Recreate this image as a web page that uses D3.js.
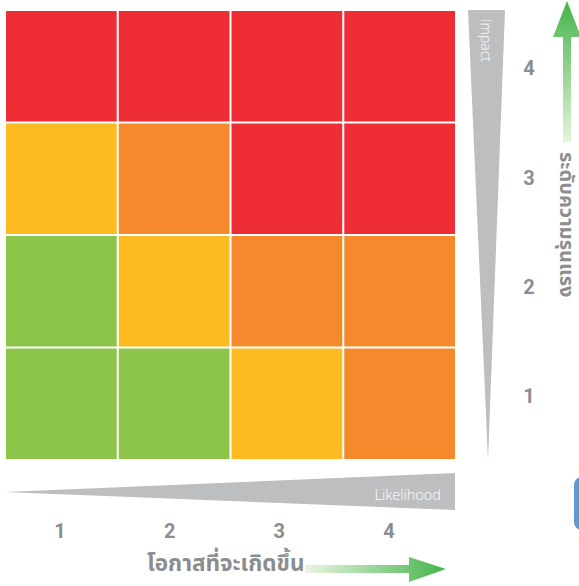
<!DOCTYPE html>
<html>
<head>
<meta charset="utf-8">
<script src="https://cdn.jsdelivr.net/npm/d3@7/dist/d3.min.js"></script>
<style>
  html, body { margin: 0; padding: 0; background: #ffffff; }
  svg { display: block; }
</style>
</head>
<body>
<svg id="chart" width="579" height="586"></svg>
<script>
// Risk matrix: likelihood (columns) against impact (rows)
const likelihoodLabels = ["1", "2", "3", "4"];
const impactLabels = ["4", "3", "2", "1"];   // top row first

// Risk level per cell, one array per impact row (likelihood 1..4)
const impact4 = ["high", "high", "high", "high"];
const impact3 = ["medium", "elevated", "high", "high"];
const impact2 = ["low", "medium", "elevated", "elevated"];
const impact1 = ["low", "low", "medium", "elevated"];

const levelColors = {
  low: "#8DC54B",
  medium: "#FDBA21",
  elevated: "#F58A2D",
  high: "#EE2D34"
};

const xTitle = "โอกาสที่จะเกิดขึ้น";
const yTitle = "ระดับความรุนแรง";
const xBarLabel = "Likelihood";
const yBarLabel = "Impact";

const rows = [
  { impact: "4", levels: impact4 },
  { impact: "3", levels: impact3 },
  { impact: "2", levels: impact2 },
  { impact: "1", levels: impact1 }
];

const cells = rows.flatMap(r =>
  r.levels.map((lvl, i) => ({ impact: r.impact, likelihood: likelihoodLabels[i], level: lvl }))
);

const svg = d3.select("#chart");
const thaiFont = "'Noto Sans Thai', 'Noto Sans Thai Looped', 'Noto Sans', 'DejaVu Sans', sans-serif";
const latinFont = "'Open Sans', Lato, sans-serif";
const gray = "#8B8D90";

const x = d3.scaleBand().domain(likelihoodLabels).range([6, 455]).paddingInner(0.018);
const y = d3.scaleBand().domain(impactLabels).range([11, 459]).paddingInner(0.018);

// Cells
svg.append("g")
  .selectAll("rect")
  .data(cells)
  .join("rect")
  .attr("x", d => x(d.likelihood))
  .attr("y", d => y(d.impact))
  .attr("width", x.bandwidth())
  .attr("height", y.bandwidth())
  .attr("fill", d => levelColors[d.level]);

const [gx0, gx1] = x.range();
const [gy0, gy1] = y.range();

// Wedge beside the grid (impact grows upward)
const impactWedge = svg.append("g");
impactWedge.append("path")
  .attr("d", `M${gx1 + 13},${gy0 - 1} L${gx1 + 50},${gy0 - 1} L${gx1 + 33},${gy1 + 1} Z`)
  .attr("fill", "#BDBEC0");
impactWedge.append("text")
  .attr("transform", `translate(${gx1 + 26},${gy0 + 8}) rotate(90)`)
  .attr("font-family", latinFont)
  .attr("font-weight", 300)
  .attr("font-size", 14)
  .attr("fill", "#ffffff")
  .text(yBarLabel);

// Wedge below the grid (likelihood grows rightward)
const likeWedge = svg.append("g");
likeWedge.append("path")
  .attr("d", `M${gx0 - 1},${gy1 + 33} L${gx1},${gy1 + 14} L${gx1},${gy1 + 51} Z`)
  .attr("fill", "#BDBEC0");
likeWedge.append("text")
  .attr("x", gx1 - 14)
  .attr("y", gy1 + 41)
  .attr("text-anchor", "end")
  .attr("font-family", latinFont)
  .attr("font-weight", 300)
  .attr("font-size", 14.5)
  .attr("fill", "#ffffff")
  .text(xBarLabel);

// Tick numbers
const xLab = d3.scalePoint().domain(likelihoodLabels).range([60, 389]);
const yLab = d3.scalePoint().domain(impactLabels).range([68, 396]);

const numStyle = sel => sel
  .attr("text-anchor", "middle")
  .attr("dy", "0.36em")
  .attr("font-family", "Roboto, 'DejaVu Sans', sans-serif")
  .attr("font-weight", 700)
  .attr("font-size", 20)
  .attr("fill", gray);

svg.append("g")
  .selectAll("text")
  .data(likelihoodLabels)
  .join("text")
  .attr("x", d => xLab(d))
  .attr("y", 531)
  .call(numStyle)
  .text(d => d);

svg.append("g")
  .selectAll("text")
  .data(impactLabels)
  .join("text")
  .attr("x", 529)
  .attr("y", d => yLab(d))
  .call(numStyle)
  .text(d => d);

// Gradients for the direction arrows
const defs = svg.append("defs");
const hGrad = defs.append("linearGradient")
  .attr("id", "hGrad").attr("gradientUnits", "userSpaceOnUse")
  .attr("x1", 305).attr("y1", 0).attr("x2", 446).attr("y2", 0);
hGrad.append("stop").attr("offset", 0).attr("stop-color", "#EBF5E1");
hGrad.append("stop").attr("offset", 1).attr("stop-color", "#43B54A");

const vGrad = defs.append("linearGradient")
  .attr("id", "vGrad").attr("gradientUnits", "userSpaceOnUse")
  .attr("x1", 0).attr("y1", 142).attr("x2", 0).attr("y2", 1);
vGrad.append("stop").attr("offset", 0).attr("stop-color", "#E6F3DB");
vGrad.append("stop").attr("offset", 1).attr("stop-color", "#43B54A");

// Horizontal arrow
svg.append("path")
  .attr("d", "M305,565 L409,565 L409,557 L446,569 L409,582 L409,573 L305,573 Z")
  .attr("fill", "url(#hGrad)");

// Vertical arrow
svg.append("path")
  .attr("d", "M563,142 L563,37 L553,37 L567,1 L581,37 L571,37 L571,142 Z")
  .attr("fill", "url(#vGrad)");

// Axis titles
svg.append("text")
  .attr("x", 147)
  .attr("y", 571)
  .attr("font-family", thaiFont)
  .attr("font-weight", 700)
  .attr("font-size", 22.5)
  .attr("fill", gray)
  .text(xTitle);

svg.append("text")
  .attr("transform", "translate(560,152) rotate(90)")
  .attr("font-family", thaiFont)
  .attr("font-weight", 700)
  .attr("font-size", 20)
  .attr("fill", gray)
  .text(yTitle);

// Edge of the neighbouring panel
svg.append("rect")
  .attr("x", 574).attr("y", 477)
  .attr("width", 24).attr("height", 53)
  .attr("rx", 8)
  .attr("fill", "#5B9BD5");
</script>
</body>
</html>
